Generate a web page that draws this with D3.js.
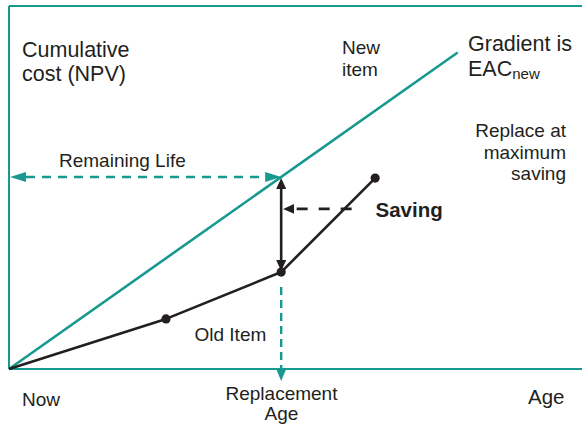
<!DOCTYPE html>
<html>
<head>
<meta charset="utf-8">
<script src="https://cdn.jsdelivr.net/npm/d3@7"></script>
<style>
  html, body { margin: 0; padding: 0; background: #fff; }
  svg { display: block; font-family: "Liberation Sans", Arial, Helvetica, sans-serif; }
  text { fill: #231f20; }
</style>
</head>
<body>
<div id="chart"></div>
<script>
// axis units are arbitrary (0..100 on both axes)
const oldAges = [0, 27.4, 47.5, 63.9];
const oldCosts = [0, 13.8, 26.7, 52.6];
const newAges = [0, 78.3];
const newCosts = [0, 87.2];
const replaceAge = 47.5;
const savingCost = 44.1;
const savingStartAge = 59.8;
const replaceDashFrom = 22.6;
const replaceDashTo = -3.3;

const width = 582;
const height = 424;
const teal = '#17998f';
const ink = '#231f20';

const x = d3.scaleLinear().domain([0, 100]).range([9, 582]);
const y = d3.scaleLinear().domain([0, 100]).range([369, 6]);

// gradient of the new item line = EAC
const eacNew = newCosts[1] / newAges[1];
const newAtReplace = eacNew * replaceAge;

const svg = d3.select('#chart')
    .append('svg')
    .attr('width', width)
    .attr('height', height);

const defs = svg.append('defs');
function marker(id, color, len, w) {
    defs.append('marker')
        .attr('id', id)
        .attr('markerUnits', 'userSpaceOnUse')
        .attr('markerWidth', len)
        .attr('markerHeight', w)
        .attr('refX', 0)
        .attr('refY', w / 2)
        .attr('orient', 'auto-start-reverse')
        .append('path')
        .attr('d', `M0,0 L${len},${w / 2} L0,${w} Z`)
        .attr('fill', color);
}
marker('teal-head', teal, 16, 10);
marker('teal-head-s', teal, 12, 10);
marker('black-head', ink, 11, 10);

// line from p1 to p2 (pixels), shortened by head length at ends with arrows
function arrow(p1, p2, opts) {
    const dx = p2[0] - p1[0], dy = p2[1] - p1[1];
    const L = Math.hypot(dx, dy);
    const ux = dx / L, uy = dy / L;
    const a = opts.start ? [p1[0] + ux * opts.len, p1[1] + uy * opts.len] : p1;
    const b = opts.end ? [p2[0] - ux * opts.len, p2[1] - uy * opts.len] : p2;
    const line = svg.append('line')
        .attr('x1', a[0]).attr('y1', a[1])
        .attr('x2', b[0]).attr('y2', b[1])
        .attr('stroke', opts.color)
        .attr('stroke-width', opts.width);
    if (opts.dash) line.attr('stroke-dasharray', opts.dash);
    if (opts.start) line.attr('marker-start', `url(#${opts.marker})`);
    if (opts.end) line.attr('marker-end', `url(#${opts.marker})`);
    return line;
}

// frame
svg.append('line')
    .attr('x1', x(0)).attr('y1', y(100))
    .attr('x2', x(100)).attr('y2', y(100))
    .attr('stroke', teal).attr('stroke-width', 2);
svg.append('line')
    .attr('x1', x(0)).attr('y1', y(100))
    .attr('x2', x(0)).attr('y2', y(0))
    .attr('stroke', teal).attr('stroke-width', 2);
svg.append('line')
    .attr('x1', x(0)).attr('y1', y(0))
    .attr('x2', x(100)).attr('y2', y(0))
    .attr('stroke', teal).attr('stroke-width', 2);

// new item line
const lineGen = d3.line().x(d => x(d[0])).y(d => y(d[1]));
svg.append('path')
    .datum(d3.zip(newAges, newCosts))
    .attr('d', lineGen)
    .attr('fill', 'none')
    .attr('stroke', teal)
    .attr('stroke-width', 2.6);

// remaining life
arrow([x(0) + 1, y(newAtReplace)], [x(replaceAge), y(newAtReplace)],
    {start: true, end: true, len: 16, color: teal, width: 2.4, dash: '9 7', marker: 'teal-head'});

// replacement age
arrow([x(replaceAge), y(replaceDashFrom)], [x(replaceAge), y(replaceDashTo)],
    {start: false, end: true, len: 12, color: teal, width: 2.4, dash: '8 5', marker: 'teal-head-s'});

// old item line
svg.append('path')
    .datum(d3.zip(oldAges, oldCosts))
    .attr('d', lineGen)
    .attr('fill', 'none')
    .attr('stroke', ink)
    .attr('stroke-width', 2.6)
    .attr('stroke-linejoin', 'round');
svg.selectAll('circle.pt')
    .data(d3.zip(oldAges, oldCosts).slice(1))
    .enter()
    .append('circle')
    .attr('class', 'pt')
    .attr('cx', d => x(d[0]))
    .attr('cy', d => y(d[1]))
    .attr('r', 4.6)
    .attr('fill', ink);

// saving (vertical double arrow)
arrow([x(replaceAge), y(newAtReplace) + 1], [x(replaceAge), y(oldCosts[2]) - 1],
    {start: true, end: true, len: 11, color: ink, width: 2.6, marker: 'black-head'});

// saving pointer
arrow([x(savingStartAge), y(savingCost)], [x(replaceAge) + 2, y(savingCost)],
    {start: false, end: true, len: 11, color: ink, width: 2.6, dash: '11 11', marker: 'black-head'});

// labels
function label(txt, px, py, size, anchor, weight) {
    return svg.append('text')
        .attr('x', px).attr('y', py)
        .attr('font-size', size)
        .attr('text-anchor', anchor || 'start')
        .attr('font-weight', weight || 'normal')
        .text(txt);
}
label('Cumulative', 22, 57, 21.5);
label('cost (NPV)', 22, 81, 21.5);
label('Remaining Life', 59, 167, 19);
label('New', 342, 54, 19);
label('item', 342, 76, 19);
label('Gradient is', 468, 51, 21.5);
const eac = label('EAC', 468, 75.5, 21.5);
eac.append('tspan').attr('font-size', 15).attr('dy', 3).text('new');
label('Replace at', 566, 137, 19, 'end');
label('maximum', 566, 158.5, 19, 'end');
label('saving', 566, 180, 19, 'end');
label('Saving', 375.5, 216.5, 20.5, 'start', 'bold');
label('Old Item', 194.5, 341, 19);
label('Now', 22, 405.5, 19);
label('Replacement', 281.5, 399.5, 19, 'middle');
label('Age', 281.5, 420, 19, 'middle');
label('Age', 528, 403.5, 20.5);
</script>
</body>
</html>
